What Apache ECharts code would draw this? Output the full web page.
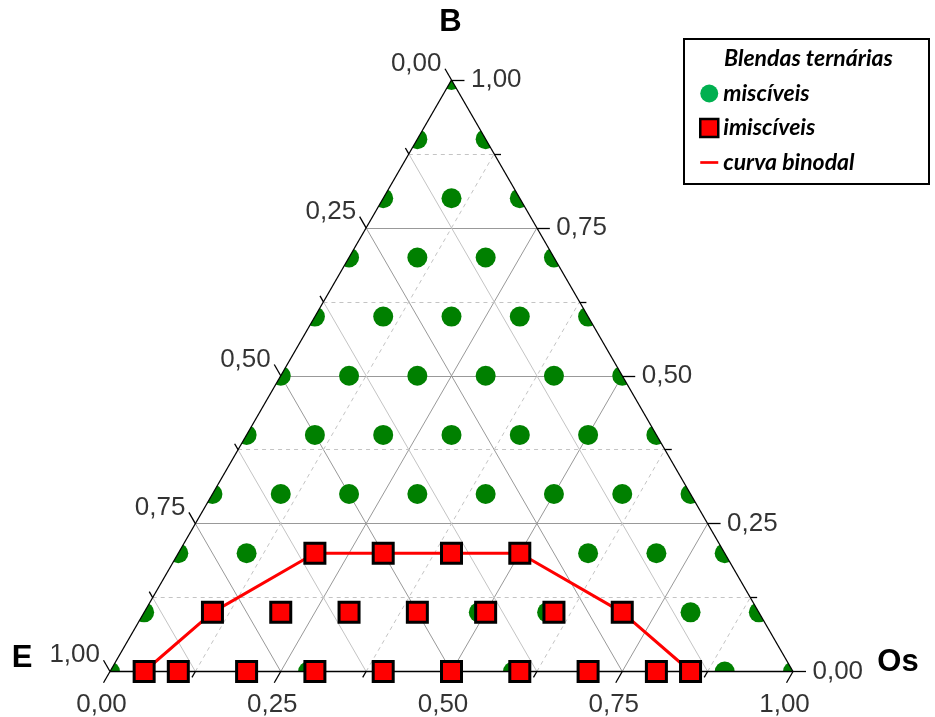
<!DOCTYPE html>
<html>
<head>
<meta charset="utf-8">
<script src="https://cdn.jsdelivr.net/npm/echarts@6/dist/echarts.min.js"></script>
<style>html,body{margin:0;padding:0;background:#fff}#c{width:935px;height:717px}</style>
</head>
<body>
<div id="c"></div>
<script>
// ---- data (ternary compositions given as [Os, B]; E = 1 - Os - B) ----
const tickValues = [0, 0.25, 0.5, 0.75, 1];
const tickLabels = ['0,00', '0,25', '0,50', '0,75', '1,00'];
const minorTicks = [0.125, 0.375, 0.625, 0.875];
const majorGrid = [0.25, 0.5, 0.75];
const axisNames = ['B', 'E', 'Os'];
const legendTitle = 'Blendas ternárias';
const seriesNames = ['miscíveis', 'imiscíveis', 'curva binodal'];

const misciveis = [
  [0, 1],
  [0, 0.9], [0.1, 0.9],
  [0, 0.8], [0.1, 0.8], [0.2, 0.8],
  [0, 0.7], [0.1, 0.7], [0.2, 0.7], [0.3, 0.7],
  [0, 0.6], [0.1, 0.6], [0.2, 0.6], [0.3, 0.6], [0.4, 0.6],
  [0, 0.5], [0.1, 0.5], [0.2, 0.5], [0.3, 0.5], [0.4, 0.5], [0.5, 0.5],
  [0, 0.4], [0.1, 0.4], [0.2, 0.4], [0.3, 0.4], [0.4, 0.4], [0.5, 0.4], [0.6, 0.4],
  [0, 0.3], [0.1, 0.3], [0.2, 0.3], [0.3, 0.3], [0.4, 0.3], [0.5, 0.3], [0.6, 0.3], [0.7, 0.3],
  [0, 0.2], [0.1, 0.2], [0.6, 0.2], [0.7, 0.2], [0.8, 0.2],
  [0, 0.1], [0.49, 0.1], [0.59, 0.1], [0.8, 0.1], [0.9, 0.1],
  [0, 0], [0.29, 0], [0.59, 0], [0.9, 0], [1, 0]
];
const imisciveis = [
  [0.2, 0.2], [0.3, 0.2], [0.4, 0.2], [0.5, 0.2],
  [0.1, 0.1], [0.2, 0.1], [0.3, 0.1], [0.4, 0.1], [0.5, 0.1], [0.6, 0.1], [0.7, 0.1],
  [0.05, 0], [0.1, 0], [0.2, 0], [0.3, 0], [0.4, 0], [0.5, 0], [0.6, 0], [0.7, 0], [0.8, 0], [0.85, 0]
];
const binodal = [
  [0.05, 0], [0.1, 0.1], [0.2, 0.2], [0.3, 0.2], [0.4, 0.2], [0.5, 0.2], [0.7, 0.1], [0.85, 0]
];

// ---- ternary -> cartesian ----
const H = Math.sqrt(3) / 2;
function toXY(os, b) { return [os + b / 2, b * H]; }
const lineB = v => ({ coords: [toXY(0, v), toXY(1 - v, v)] });
const lineE = v => ({ coords: [toXY(0, 1 - v), toXY(1 - v, 0)] });
const lineOs = v => ({ coords: [toXY(v, 0), toXY(v, 1 - v)] });

const TM = 0.019, Tm = 0.010; // tick lengths in data units
function leftTick(v, t) { return { coords: [toXY(0, 1 - v), toXY(-t, 1 - v + t)] }; }
function rightTick(v, t) { return { coords: [toXY(1 - v, v), toXY(1 - v + t, v)] }; }
function bottomTick(v, t) { return { coords: [toXY(v, 0), toXY(v, -t)] }; }

const frame = [
  { coords: [toXY(0, 0), toXY(1, 0)] },
  { coords: [toXY(1, 0), toXY(0, 1)] },
  { coords: [toXY(0, 1), toXY(0, 0)] }
];
tickValues.forEach(v => { frame.push(leftTick(v, TM), rightTick(v, TM), bottomTick(v, TM)); });
minorTicks.forEach(v => { frame.push(leftTick(v, Tm), rightTick(v, Tm), bottomTick(v, Tm)); });

const labelFont = { fontFamily: 'Liberation Sans, Arial, sans-serif', fontSize: 26, color: '#000' };
function labelSeries(name, pts, pos, dist, offset) {
  return {
    type: 'scatter', name: name, silent: true, clip: false, z: 7,
    symbolSize: 1, itemStyle: { color: 'rgba(0,0,0,0)' },
    label: Object.assign({ show: true, position: pos, distance: dist, offset: offset }, labelFont),
    data: pts.map((p, i) => ({ value: p, label: { formatter: tickLabels[i] } }))
  };
}

const chart = echarts.init(document.getElementById('c'), null, { renderer: 'canvas' });
const legFont = { fontFamily: 'Lato, Open Sans, sans-serif', fontStyle: 'italic', fontWeight: 'bold', fontSize: 23, color: '#000' };

chart.setOption({
  animation: false,
  backgroundColor: '#fff',
  grid: { left: 110, top: 80, width: 683, height: 591.5 },
  xAxis: { type: 'value', min: 0, max: 1, show: false },
  yAxis: { type: 'value', min: 0, max: H, show: false },
  title: { text: legendTitle, left: 724, top: 47, padding: 0, z: 10, textStyle: legFont },
  legend: {
    orient: 'vertical', left: 694, top: 77, itemWidth: 18, itemHeight: 18, itemGap: 11.5, itemTextGap: 10,
    selectedMode: false, z: 10, textStyle: legFont,
    data: [
      { name: seriesNames[0], icon: 'circle', itemStyle: { color: '#00b050', opacity: 1 } },
      { name: seriesNames[1], icon: 'rect', itemStyle: { color: '#ff0000', borderColor: '#000', borderWidth: 2.5, opacity: 1 } },
      { name: seriesNames[2], icon: 'path://M0,0L20,0L20,3L0,3Z', itemStyle: { color: '#ff0000', opacity: 1 } }
    ]
  },
  series: [
    { type: 'lines', name: 'gridMajor', coordinateSystem: 'cartesian2d', silent: true, clip: false, z: 1,
      lineStyle: { color: '#999', width: 1, opacity: 1 },
      data: majorGrid.flatMap(v => [lineB(v), lineE(v), lineOs(v)]) },
    { type: 'lines', name: 'gridMinorDash', coordinateSystem: 'cartesian2d', silent: true, clip: false, z: 1,
      lineStyle: { color: '#c4c4c4', width: 1, type: [4, 4], opacity: 1 },
      data: minorTicks.flatMap(v => [lineB(v), lineOs(v)]) },
    { type: 'lines', name: 'gridMinorSolid', coordinateSystem: 'cartesian2d', silent: true, clip: false, z: 1,
      lineStyle: { color: '#c4c4c4', width: 1, opacity: 1 },
      data: minorTicks.map(v => lineE(v)) },
    { type: 'scatter', name: seriesNames[0], clip: false, z: 2, symbol: 'circle', symbolSize: 20,
      itemStyle: { color: '#008000', opacity: 1 },
      data: misciveis.map(p => toXY(p[0], p[1])) },
    { type: 'lines', name: 'frame', coordinateSystem: 'cartesian2d', silent: true, clip: false, z: 4,
      lineStyle: { color: '#000', width: 1.3, opacity: 1 },
      data: frame },
    { type: 'line', name: seriesNames[2], clip: false, z: 5, symbol: 'none',
      lineStyle: { color: '#ff0000', width: 3 }, itemStyle: { color: '#ff0000' },
      data: binodal.map(p => toXY(p[0], p[1])) },
    { type: 'scatter', name: seriesNames[1], clip: false, z: 6, symbol: 'rect', symbolSize: 20,
      itemStyle: { color: '#ff0000', borderColor: '#000', borderWidth: 3, opacity: 1 },
      data: imisciveis.map(p => toXY(p[0], p[1])) },
    labelSeries('leftLabels', tickValues.map(v => toXY(-TM, 1 - v + TM)), 'left', 3, [0, -5]),
    labelSeries('rightLabels', tickValues.map(v => toXY(1 - v + TM, v)), 'right', 6, [0, 0]),
    labelSeries('bottomLabels', tickValues.map(v => toXY(v, -TM)), 'bottom', 9, [-2, 0])
  ]
});

// mask outside the triangle (clips the miscible markers to the diagram)
const A = chart.convertToPixel({ gridIndex: 0 }, toXY(0, 0));
const Bv = chart.convertToPixel({ gridIndex: 0 }, toXY(0, 1));
const C = chart.convertToPixel({ gridIndex: 0 }, toXY(1, 0));
const W = 935, Hh = 717;
const titleFont = 'bold 31px "Liberation Sans", Arial, sans-serif';
chart.setOption({
  graphic: [
    { type: 'polygon', z: 3, silent: true,
      shape: { points: [[0, A[1]], A, Bv, C, A, [0, A[1]], [0, Hh], [W, Hh], [W, 0], [0, 0]] },
      style: { fill: '#fff' } },
    { type: 'rect', z: 8, silent: true, shape: { x: 684, y: 39, width: 245, height: 145 },
      style: { fill: '#fff', stroke: '#000', lineWidth: 2 } },
    { type: 'text', z: 10, x: Bv[0] - 1, y: 22, style: { text: axisNames[0], font: titleFont, fill: '#000', align: 'center', verticalAlign: 'middle' } },
    { type: 'text', z: 10, x: 22, y: 658, style: { text: axisNames[1], font: titleFont, fill: '#000', align: 'center', verticalAlign: 'middle' } },
    { type: 'text', z: 10, x: 898, y: 662, style: { text: axisNames[2], font: titleFont, fill: '#000', align: 'center', verticalAlign: 'middle' } }
  ]
});
</script>
</body>
</html>
